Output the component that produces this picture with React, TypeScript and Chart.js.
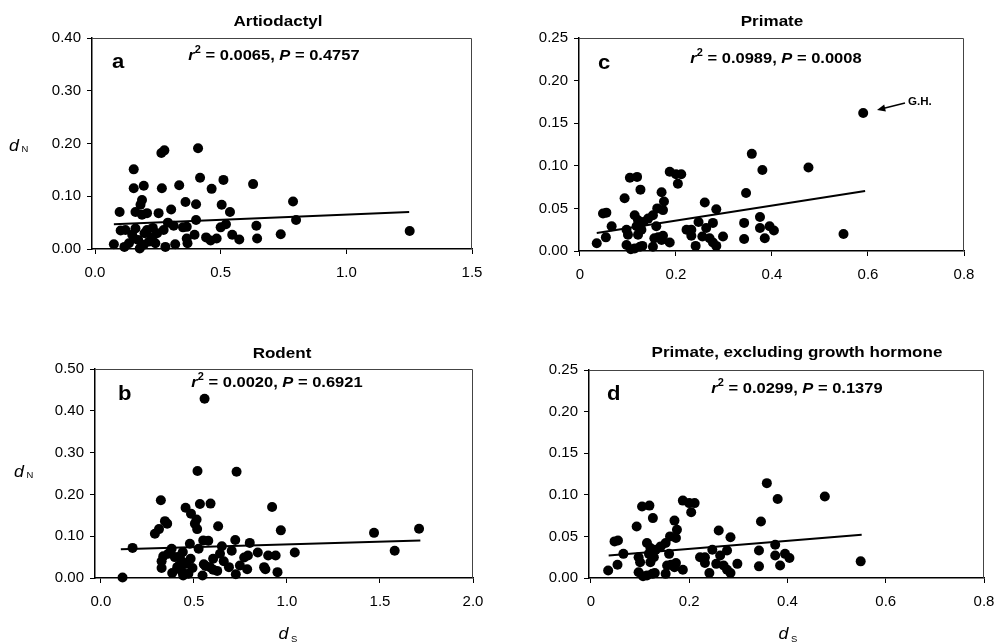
import React, { useEffect, useRef } from "react";
import { Chart, registerables } from "chart.js";

Chart.register(...registerables);

const FONT = '"Liberation Sans", Arial, Helvetica, sans-serif';

// ---------- Data ----------
// Panel a: Artiodactyl
const artiodactylDs = [
  0.154, 0.264, 0.276, 0.410, 0.154, 0.194, 0.266, 0.335, 0.418, 0.464, 0.511, 0.629, 0.788, 0.800,
  1.252, 0.739, 0.642, 0.645, 0.574, 0.546, 0.537, 0.504, 0.500, 0.521, 0.484, 0.460, 0.442, 0.402,
  0.360, 0.402, 0.396, 0.365, 0.368, 0.350, 0.365, 0.319, 0.303, 0.313, 0.290, 0.280, 0.253, 0.273,
  0.247, 0.240, 0.227, 0.207, 0.187, 0.181, 0.161, 0.187, 0.098, 0.075, 0.117, 0.102, 0.121, 0.148,
  0.161, 0.172, 0.178, 0.194, 0.197, 0.207, 0.135, 0.155, 0.215, 0.230,
];
const artiodactylDn = [
  0.151, 0.182, 0.187, 0.191, 0.115, 0.120, 0.115, 0.121, 0.135, 0.114, 0.131, 0.123, 0.090, 0.055,
  0.034, 0.028, 0.044, 0.020, 0.018, 0.027, 0.070, 0.084, 0.041, 0.047, 0.020, 0.016, 0.022, 0.085,
  0.089, 0.055, 0.027, 0.020, 0.011, 0.041, 0.042, 0.009, 0.075, 0.044, 0.050, 0.004, 0.068, 0.036,
  0.030, 0.011, 0.022, 0.068, 0.093, 0.084, 0.070, 0.065, 0.070, 0.009, 0.004, 0.035, 0.036, 0.027,
  0.039, 0.017, 0.001, 0.008, 0.030, 0.036, 0.011, 0.020, 0.014, 0.040,
];
const artiodactylFitDs = [0.075, 1.25];
const artiodactylFitDn = [0.047, 0.07];

// Panel b: Rodent
const rodentDs = [
  0.116, 0.170, 0.557, 0.519, 0.729, 0.322, 0.532, 0.589, 0.920, 0.455, 0.484, 0.514, 0.505, 0.517,
  0.630, 0.967, 1.468, 1.710, 1.579, 1.042, 0.290, 0.312, 0.344, 0.356, 0.550, 0.577, 0.722, 0.800,
  0.478, 0.525, 0.650, 0.703, 0.843, 0.899, 0.939, 0.790, 0.770, 0.640, 0.603, 0.482, 0.380, 0.362,
  0.335, 0.326, 0.397, 0.424, 0.440, 0.326, 0.383, 0.410, 0.433, 0.442, 0.492, 0.546, 0.562, 0.586,
  0.603, 0.625, 0.688, 0.725, 0.747, 0.786, 0.877, 0.884, 0.949, 0.460, 0.553, 0.440, 0.420, 0.470,
  0.660,
];
const rodentDn = [
  0.001, 0.072, 0.429, 0.256, 0.254, 0.186, 0.177, 0.178, 0.170, 0.168, 0.154, 0.140, 0.130, 0.117,
  0.124, 0.114, 0.108, 0.118, 0.065, 0.061, 0.106, 0.117, 0.136, 0.130, 0.090, 0.089, 0.091, 0.084,
  0.082, 0.070, 0.076, 0.065, 0.061, 0.054, 0.054, 0.054, 0.049, 0.058, 0.046, 0.046, 0.070, 0.058,
  0.052, 0.040, 0.050, 0.052, 0.038, 0.024, 0.012, 0.026, 0.017, 0.006, 0.024, 0.006, 0.029, 0.026,
  0.020, 0.017, 0.026, 0.009, 0.030, 0.021, 0.026, 0.021, 0.014, 0.034, 0.033, 0.062, 0.030, 0.010,
  0.040,
];
const rodentFitDs = [0.107, 1.717];
const rodentFitDn = [0.069, 0.09];

// Panels c and d: Primate (growth hormone point kept separately)
const primateDs = [
  0.358, 0.380, 0.476, 0.346, 0.549, 0.342, 0.375, 0.375, 0.395, 0.404, 0.342, 0.385, 0.187, 0.200,
  0.211, 0.204, 0.104, 0.119, 0.126, 0.093, 0.170, 0.175, 0.048, 0.055, 0.066, 0.035, 0.260, 0.284,
  0.247, 0.277, 0.263, 0.222, 0.232, 0.232, 0.255, 0.270, 0.277, 0.284, 0.241, 0.298, 0.114, 0.121,
  0.132, 0.142, 0.152, 0.161, 0.173, 0.159, 0.097, 0.100, 0.121, 0.097, 0.106, 0.114, 0.125, 0.130,
  0.152, 0.155, 0.163, 0.173, 0.187, 0.170, 0.118, 0.128, 0.054,
];
const primateDn = [
  0.114, 0.095, 0.098, 0.068, 0.020, 0.033, 0.040, 0.027, 0.029, 0.024, 0.014, 0.015, 0.093, 0.090,
  0.090, 0.079, 0.086, 0.087, 0.072, 0.062, 0.069, 0.058, 0.044, 0.045, 0.029, 0.009, 0.057, 0.049,
  0.034, 0.033, 0.027, 0.025, 0.025, 0.018, 0.017, 0.015, 0.010, 0.006, 0.006, 0.017, 0.042, 0.036,
  0.034, 0.038, 0.042, 0.050, 0.048, 0.029, 0.025, 0.019, 0.019, 0.007, 0.002, 0.003, 0.005, 0.006,
  0.005, 0.015, 0.016, 0.018, 0.010, 0.013, 0.029, 0.025, 0.016,
];
const growthHormoneDs = [0.59];
const growthHormoneDn = [0.162];
const primateFitDs = [0.035, 0.594];
const primateFitDn = [0.021, 0.0705];
const primateNoGhFitDs = [0.036, 0.551];
const primateNoGhFitDn = [0.027, 0.052];

// Tick values
const ticksA_x = [0, 0.5, 1.0, 1.5];
const ticksA_y = [0, 0.1, 0.2, 0.3, 0.4];
const ticksB_x = [0, 0.5, 1.0, 1.5, 2.0];
const ticksB_y = [0, 0.1, 0.2, 0.3, 0.4, 0.5];
const ticksP_x = [0, 0.2, 0.4, 0.6, 0.8];
const ticksP_y = [0, 0.05, 0.1, 0.15, 0.2, 0.25];

const zip = (xs: number[], ys: number[]) => xs.map((x, i) => ({ x, y: ys[i] }));

type Seg = { text: string; font: string; dy?: number };

function drawSegs(ctx: CanvasRenderingContext2D, segs: Seg[], x: number, y: number, align: "left" | "center", sx: number) {
  ctx.save();
  ctx.textBaseline = "alphabetic";
  ctx.textAlign = "left";
  const widths = segs.map((s) => {
    ctx.font = s.font;
    return ctx.measureText(s.text).width;
  });
  const total = widths.reduce((a, b) => a + b, 0);
  ctx.translate(x, y);
  ctx.scale(sx, 1);
  let cx = align === "center" ? -total / 2 : 0;
  segs.forEach((s, i) => {
    ctx.font = s.font;
    ctx.fillText(s.text, cx, s.dy || 0);
    cx += widths[i];
  });
  ctx.restore();
}

const panelTextPlugin = {
  id: "panelText",
  afterDraw(chart: any, _args: any, o: any) {
    const ctx: CanvasRenderingContext2D = chart.ctx;
    const ca = chart.chartArea;
    ctx.save();
    ctx.fillStyle = "#000";
    // frame (top and right)
    ctx.strokeStyle = "#444";
    ctx.lineWidth = 1;
    ctx.beginPath();
    ctx.moveTo(ca.left, ca.top + 0.5);
    ctx.lineTo(ca.right - 0.5, ca.top + 0.5);
    ctx.lineTo(ca.right - 0.5, ca.bottom);
    ctx.stroke();

    // title
    drawSegs(ctx, [{ text: o.title, font: `bold 15.5px ${FONT}` }], o.titleX, o.titleY, "center", 1.1);
    // letter
    drawSegs(ctx, [{ text: o.letter, font: `bold 21px ${FONT}` }], o.letterX, o.letterY, "left", 1.05);
    // stats
    drawSegs(
      ctx,
      [
        { text: "r", font: `italic bold 15px ${FONT}` },
        { text: "2", font: `bold 10px ${FONT}`, dy: -7 },
        { text: ` = ${o.r2}, `, font: `bold 15px ${FONT}` },
        { text: "P", font: `italic bold 15px ${FONT}` },
        { text: ` = ${o.p}`, font: `bold 15px ${FONT}` },
      ],
      o.statsX,
      o.statsY,
      "center",
      1.1
    );
    // y label dN
    if (o.dnX != null) {
      drawSegs(
        ctx,
        [
          { text: "d", font: `italic 17px ${FONT}` },
          { text: " N", font: `9px ${FONT}`, dy: 1 },
        ],
        o.dnX,
        o.dnY,
        "left",
        1.05
      );
    }
    // x label dS
    if (o.dsX != null) {
      drawSegs(
        ctx,
        [
          { text: "d", font: `italic 17px ${FONT}` },
          { text: " S", font: `9px ${FONT}`, dy: 3 },
        ],
        o.dsX,
        o.dsY,
        "center",
        1.05
      );
    }
    // G.H. annotation
    if (o.gh) {
      const g = o.gh;
      drawSegs(ctx, [{ text: "G.H.", font: `bold 11px ${FONT}` }], g.textX, g.textY, "left", 1.05);
      ctx.strokeStyle = "#000";
      ctx.lineWidth = 1.5;
      ctx.beginPath();
      ctx.moveTo(g.x1, g.y1);
      ctx.lineTo(g.x2 + 6, g.y2 - 1.5);
      ctx.stroke();
      const ang = Math.atan2(g.y2 - g.y1, g.x2 - g.x1);
      ctx.beginPath();
      ctx.moveTo(g.x2, g.y2);
      ctx.lineTo(g.x2 - 9 * Math.cos(ang - 0.4), g.y2 - 9 * Math.sin(ang - 0.4));
      ctx.lineTo(g.x2 - 9 * Math.cos(ang + 0.4), g.y2 - 9 * Math.sin(ang + 0.4));
      ctx.closePath();
      ctx.fill();
    }
    ctx.restore();
  },
};

type PanelCfg = {
  left: number;
  top: number;
  width: number;
  height: number;
  area: { left: number; top: number; right: number; bottom: number };
  xMin: number;
  xMax: number;
  yMax: number;
  xTicks: number[];
  yTicks: number[];
  xFmt: (v: number) => string;
  points: { x: number; y: number }[];
  fit: { x: number; y: number }[];
  text: any;
};

function Panel({ cfg }: { cfg: PanelCfg }) {
  const ref = useRef<HTMLCanvasElement | null>(null);
  useEffect(() => {
    if (!ref.current) return;
    const xH = 40;
    const a = cfg.area;
    const chart = new Chart(ref.current, {
      type: "scatter",
      data: {
        datasets: [
          {
            data: cfg.fit,
            showLine: true,
            borderColor: "#000",
            borderWidth: 2,
            pointRadius: 0,
            pointHoverRadius: 0,
            clip: false,
            order: 1,
          } as any,
          {
            data: cfg.points,
            pointRadius: 5,
            pointHoverRadius: 5,
            pointBackgroundColor: "#000",
            pointBorderColor: "#000",
            pointBorderWidth: 0,
            showLine: false,
            clip: false,
            order: 0,
          } as any,
        ],
      },
      options: {
        responsive: false,
        animation: false,
        events: [],
        layout: {
          autoPadding: false,
          padding: {
            left: 0,
            top: a.top,
            right: cfg.width - a.right,
            bottom: cfg.height - a.bottom - xH,
          },
        },
        plugins: {
          legend: { display: false },
          tooltip: { enabled: false },
          title: { display: false },
          panelText: cfg.text,
        } as any,
        scales: {
          x: {
            type: "linear",
            position: "bottom",
            min: cfg.xMin,
            max: cfg.xMax,
            afterBuildTicks: (s: any) => {
              s.ticks = cfg.xTicks.map((v) => ({ value: v }));
            },
            afterFit: (s: any) => {
              s.height = xH;
            },
            ticks: {
              autoSkip: false,
              maxRotation: 0,
              color: "#000",
              padding: 10,
              font: { family: FONT, size: 15 },
              callback: (v: any) => cfg.xFmt(Number(v)),
            },
            grid: { display: true, drawOnChartArea: false, drawTicks: true, tickLength: 5, color: "#000", lineWidth: 1 },
            border: { display: true, color: "#000", width: 1.5 },
          },
          y: {
            type: "linear",
            position: "left",
            min: 0,
            max: cfg.yMax,
            afterBuildTicks: (s: any) => {
              s.ticks = cfg.yTicks.map((v) => ({ value: v }));
            },
            afterFit: (s: any) => {
              s.width = a.left;
            },
            ticks: {
              autoSkip: false,
              color: "#000",
              padding: 6,
              font: { family: FONT, size: 15 },
              callback: (v: any) => Number(v).toFixed(2),
            },
            grid: { display: true, drawOnChartArea: false, drawTicks: true, tickLength: 5, color: "#000", lineWidth: 1 },
            border: { display: true, color: "#000", width: 1.5 },
          },
        },
      } as any,
      plugins: [panelTextPlugin as any],
    });
    return () => chart.destroy();
  }, [cfg]);
  return (
    <div style={{ position: "absolute", left: cfg.left, top: cfg.top, width: cfg.width, height: cfg.height }}>
      <canvas ref={ref} width={cfg.width} height={cfg.height} style={{ display: "block", width: cfg.width, height: cfg.height }} />
    </div>
  );
}

const fmt1 = (v: number) => v.toFixed(1);
const fmtP = (v: number) => (v === 0 ? "0" : v.toFixed(1));

const panels: PanelCfg[] = [
  {
    left: 0,
    top: 0,
    width: 497,
    height: 300,
    area: { left: 92, top: 38, right: 472, bottom: 249 },
    xMin: -0.012,
    xMax: 1.5,
    yMax: 0.4,
    xTicks: ticksA_x,
    yTicks: ticksA_y,
    xFmt: fmt1,
    points: zip(artiodactylDs, artiodactylDn),
    fit: zip(artiodactylFitDs, artiodactylFitDn),
    text: {
      title: "Artiodactyl",
      titleX: 278,
      titleY: 26,
      letter: "a",
      letterX: 112,
      letterY: 68,
      r2: "0.0065",
      p: "0.4757",
      statsX: 274,
      statsY: 60,
      dnX: 9,
      dnY: 151,
    },
  },
  {
    left: 497,
    top: 0,
    width: 498,
    height: 300,
    area: { left: 82, top: 38, right: 467, bottom: 251 },
    xMin: -0.002,
    xMax: 0.8,
    yMax: 0.25,
    xTicks: ticksP_x,
    yTicks: ticksP_y,
    xFmt: fmtP,
    points: zip(primateDs.concat(growthHormoneDs), primateDn.concat(growthHormoneDn)),
    fit: zip(primateFitDs, primateFitDn),
    text: {
      title: "Primate",
      titleX: 275,
      titleY: 26,
      letter: "c",
      letterX: 101,
      letterY: 69,
      r2: "0.0989",
      p: "0.0008",
      statsX: 279,
      statsY: 63,
      gh: { textX: 411, textY: 105, x1: 408, y1: 103, x2: 380, y2: 110 },
    },
  },
  {
    left: 0,
    top: 300,
    width: 497,
    height: 342,
    area: { left: 95, top: 69, right: 473, bottom: 278 },
    xMin: -0.032,
    xMax: 2.0,
    yMax: 0.5,
    xTicks: ticksB_x,
    yTicks: ticksB_y,
    xFmt: fmt1,
    points: zip(rodentDs, rodentDn),
    fit: zip(rodentFitDs, rodentFitDn),
    text: {
      title: "Rodent",
      titleX: 282,
      titleY: 58,
      letter: "b",
      letterX: 118,
      letterY: 100,
      r2: "0.0020",
      p: "0.6921",
      statsX: 277,
      statsY: 87,
      dnX: 14,
      dnY: 177,
      dsX: 288,
      dsY: 339,
    },
  },
  {
    left: 497,
    top: 300,
    width: 512,
    height: 342,
    area: { left: 92, top: 70, right: 487, bottom: 278 },
    xMin: -0.004,
    xMax: 0.8,
    yMax: 0.25,
    xTicks: ticksP_x,
    yTicks: ticksP_y,
    xFmt: fmtP,
    points: zip(primateDs, primateDn),
    fit: zip(primateNoGhFitDs, primateNoGhFitDn),
    text: {
      title: "Primate, excluding growth hormone",
      titleX: 300,
      titleY: 57,
      letter: "d",
      letterX: 110,
      letterY: 100,
      r2: "0.0299",
      p: "0.1379",
      statsX: 300,
      statsY: 93,
      dsX: 291,
      dsY: 339,
    },
  },
];

export default function App() {
  return (
    <div style={{ position: "absolute", left: 0, top: 0, width: 995, height: 642, background: "#fff", overflow: "hidden" }}>
      {panels.map((p, i) => (
        <Panel key={i} cfg={p} />
      ))}
    </div>
  );
}
